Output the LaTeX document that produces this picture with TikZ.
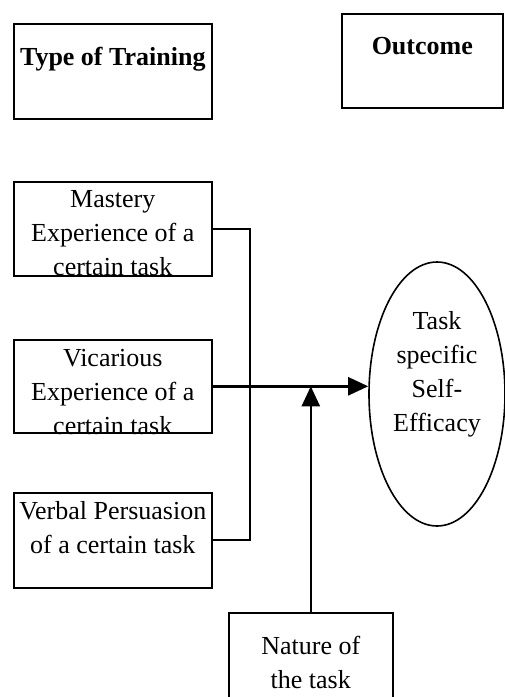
\documentclass[tikz,border=0pt]{standalone}
\usepackage{fontspec}
\setmainfont{Liberation Serif}
\usetikzlibrary{shapes,arrows,positioning,calc,arrows.meta}
% text block of fixed size, set from its top
\newcommand{\boxtxt}[4]{\parbox[c][#1][t]{#2}{\centering\vspace*{#3}#4}}

\begin{document}
\begin{tikzpicture}[x=1pt,y=-1pt,
    font=\fontsize{26}{34}\selectfont,
    tbox/.style={draw, line width=1.6pt, inner sep=0pt, anchor=north west},
    conn/.style={line width=2pt},
    arr/.style={line width=2.4pt, -{Triangle[length=20pt,width=18pt]}}]
    \useasboundingbox (0,0) rectangle (505,697);

    % Headings
    \node [tbox] (type) at (13,23) {\boxtxt{95pt}{198pt}{23pt}{\bfseries Type of Training}};
    \node [tbox] (outcome) at (341,13) {\boxtxt{94pt}{161pt}{23pt}{\bfseries Outcome}};

    % Training
    \node [tbox] (mastery) at (13,181) {\boxtxt{94pt}{198pt}{9pt}{Mastery\\Experience of a\\certain task}};
    \node [tbox] (vicarious) at (13,339) {\boxtxt{93pt}{198pt}{9pt}{Vicarious\\Experience of a\\certain task}};
    \node [tbox] (verbal) at (13,492) {\boxtxt{95pt}{198pt}{9pt}{Verbal Persuasion\\of a certain task}};

    % Outcome
    \node [draw, ellipse, line width=1.6pt, inner sep=0pt, minimum width=136pt, minimum height=264pt] (eff) at (437,394)
        {\boxtxt{180pt}{90pt}{7pt}{Task\\specific\\Self-\\Efficacy}};

    % Task
    \node [tbox] (nature) at (228,612) {\boxtxt{90pt}{164pt}{23pt}{Nature of\\the task}};

    % Links
    \draw [conn] (mastery.east) -- ++(37,0) |- (verbal.east);
    \draw [arr] (vicarious.east) -- (vicarious.east -| eff.west);
    \coordinate (meet) at (nature.north |- vicarious.east);
    \draw [arr] (nature.north) -- (meet);
\end{tikzpicture}
\end{document}
